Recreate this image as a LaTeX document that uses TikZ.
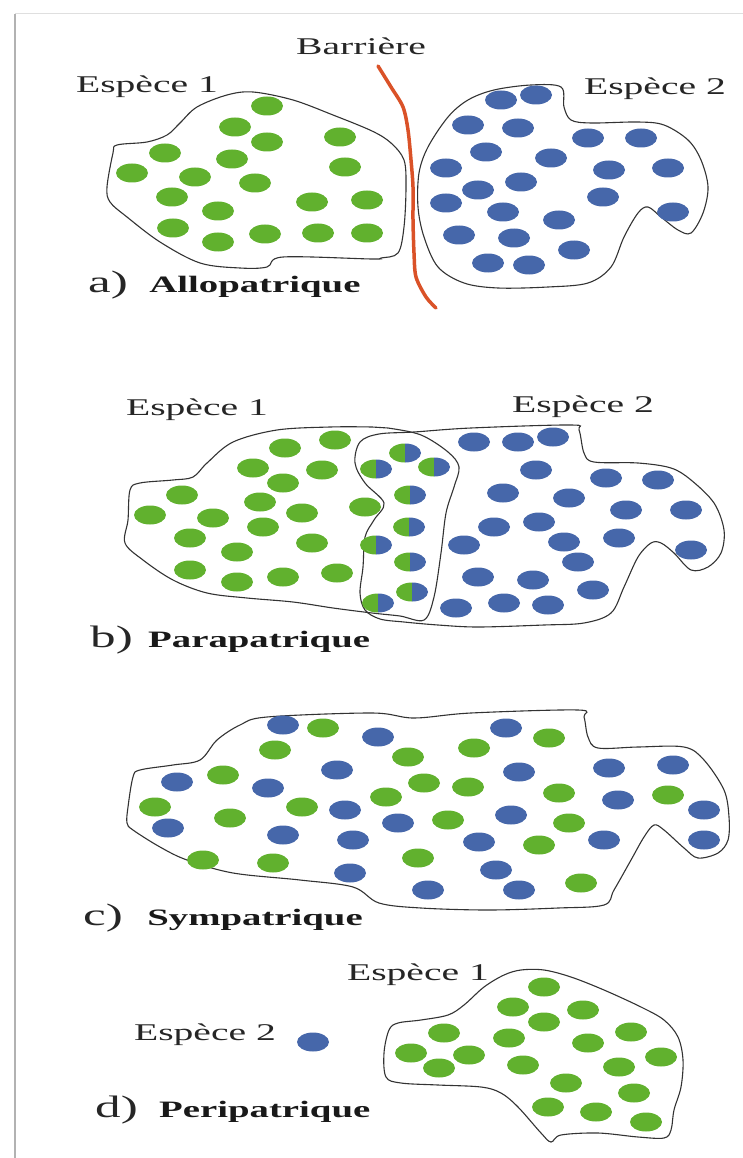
\documentclass[tikz,border=0pt]{standalone}
\usepackage{fontspec}
\setmainfont{Liberation Serif}
\usetikzlibrary{positioning}

\definecolor{grn}{RGB}{97,177,46}
\definecolor{blu}{RGB}{70,103,170}
\definecolor{barrier}{RGB}{218,82,40}
\newcommand{\wide}[1]{\scalebox{1.65}[1]{#1}}

\begin{document}
\begin{tikzpicture}[x=1pt, y=-1pt,
  espece/.style={font=\fontsize{24}{26}\selectfont, inner sep=0pt, anchor=base, text=black!85},
  caselab/.style={font=\fontsize{31}{33}\selectfont, inner sep=0pt, anchor=base west, text=black!85},
  modelab/.style={font=\fontsize{23.5}{26}\selectfont\bfseries, inner sep=0pt, text=black!90},
  area/.style={draw=black!80, line width=1.1pt},
  dotsize/.style={x radius=16pt, y radius=9.5pt},
  gdot/.style={fill=grn},
  bdot/.style={fill=blu},
  barrierline/.style={draw=barrier, line width=3.5pt, line cap=round}
]
  \useasboundingbox (0,0) rectangle (743,1158);
  % frame
  \draw[gray!25, line width=1pt] (15,14) -- (743,14);
  \draw[gray!60, line width=2.5pt] (15,1158) -- (15,14);

  % a) allopatrique
  \draw[area] plot[smooth cycle, tension=0.55] coordinates {(253,92) (293,100) (333,115) (372,131) (391,143) (404,160) (406,187) (404,227) (398,253) (381,258) (372,259) (283,257) (267,267) (240,268) (200,263) (160,242) (127,217) (110,202) (107,187) (113,153) (117,145) (147,142) (167,135) (180,123) (197,107) (227,95)};
  \draw[area] plot[smooth cycle, tension=0.55] coordinates {(531,85) (561,87) (564,107) (571,120) (591,123) (638,122) (664,125) (688,140) (701,160) (708,187) (703,213) (691,233) (678,230) (661,217) (648,207) (638,213) (624,237) (611,267) (588,283) (548,287) (498,288) (464,283) (438,267) (424,237) (418,207) (419,173) (428,147) (448,117) (468,100) (494,90)};
  \foreach \x/\y in {267/106, 235/127, 267/142, 340/137, 165/153, 232/159, 345/167, 132/173, 195/177, 255/183, 172/197, 312/202, 367/200, 218/211, 173/228, 218/242, 265/234, 318/233, 367/233}
    \fill[gdot] (\x,\y) ellipse[dotsize];
  \foreach \x/\y in {501/100, 536/95, 468/125, 518/128, 588/138, 641/138, 486/152, 551/158, 446/168, 609/170, 668/168, 478/190, 521/182, 603/197, 446/203, 503/212, 559/220, 673/212, 459/235, 514/238, 574/250, 488/263, 529/265}
    \fill[bdot] (\x,\y) ellipse[dotsize];
  \draw[barrierline] plot[smooth] coordinates {(378,66) (391,87) (403,107) (408,130) (411,160) (413,187) (413,220) (414,253) (416,277) (426,297) (436,308)};
  \node[espece] (barr) at (361,55) {\wide{Barrière}};
  \node[espece] (spa1) at (147,93) {\wide{Espèce 1}};
  \node[espece] (spa2) at (655,95) {\wide{Espèce 2}};
  \node[caselab] (la) at (88,292) {\wide{a)}};
  \node[modelab, base right=21pt of la] (ma) {\wide{Allopatrique}};

  % b) parapatrique
  \draw[area] plot[smooth cycle, tension=0.55] coordinates {(277,430) (330,427) (372,427) (388,428) (421,435) (448,452) (459,467) (454,487) (446,513) (441,553) (434,597) (424,620) (400,616) (372,613) (333,608) (293,602) (247,598) (207,593) (173,580) (143,560) (125,543) (128,520) (130,490) (140,483) (173,480) (193,477) (207,463) (233,442)};
  \draw[area] plot[smooth cycle, tension=0.55] coordinates {(360,442) (379,434) (414,432) (471,428) (571,425) (579,430) (584,453) (594,462) (638,463) (671,468) (691,480) (714,503) (724,530) (721,553) (708,567) (691,570) (674,553) (661,543) (651,543) (638,557) (624,587) (611,613) (584,623) (544,625) (478,627) (438,625) (404,622) (380,619) (365,610) (360,593) (363,567) (365,537) (374,520) (384,503) (365,483) (355,463)};
  \foreach \x/\y in {335/440, 285/448, 253/468, 322/470, 283/483, 182/495, 260/502, 302/513, 150/515, 213/518, 263/527, 190/538, 312/543, 237/552, 190/570, 237/582, 283/577, 337/573, 365/507}
    \fill[gdot] (\x,\y) ellipse[dotsize];
  \foreach \x/\y in {474/442, 518/442, 553/437, 536/470, 606/478, 658/480, 503/493, 569/498, 626/510, 686/510, 494/527, 539/522, 564/542, 619/538, 464/545, 691/550, 578/562, 478/577, 533/580, 593/590, 456/608, 504/603, 548/605}
    \fill[bdot] (\x,\y) ellipse[dotsize];
  % hybrids
  \foreach \x/\y in {405/453, 376/469, 434/467, 410/495, 409/527, 376/545, 410/562, 412/592, 378/603} {
    \fill[gdot] (\x,\y) -- ++(0,9.5) arc[start angle=270, end angle=90, dotsize] -- cycle;
    \fill[bdot] (\x,\y) -- ++(0,9.5) arc[start angle=-90, end angle=90, dotsize] -- cycle;
  }
  \node[espece] (spb1) at (197,415) {\wide{Espèce 1}};
  \node[espece] (spb2) at (583,412) {\wide{Espèce 2}};
  \node[caselab] (lb) at (90,647) {\wide{b)}};
  \node[modelab, base right=15pt of lb] (mb) {\wide{Parapatrique}};

  % c) sympatrique
  \draw[area] plot[smooth cycle, tension=0.55] coordinates {(267,717) (372,713) (414,718) (471,713) (578,710) (584,717) (588,737) (598,748) (638,747) (684,747) (704,760) (724,790) (729,817) (728,840) (718,853) (698,858) (684,848) (664,830) (654,825) (644,837) (631,860) (614,890) (604,905) (558,908) (488,910) (421,908) (379,903) (353,887) (300,880) (233,873) (187,860) (160,847) (133,830) (127,823) (128,807) (133,777) (140,770) (173,765) (200,760) (217,740) (240,725)};
  \foreach \x/\y in {323/728, 275/750, 223/775, 155/807, 302/807, 230/818, 203/860, 273/863, 549/738, 408/757, 474/748, 424/783, 468/787, 386/797, 559/793, 668/795, 448/820, 569/823, 539/845, 418/858, 581/883}
    \fill[gdot] (\x,\y) ellipse[dotsize];
  \foreach \x/\y in {283/725, 378/737, 337/770, 177/782, 268/788, 345/810, 168/828, 283/835, 353/840, 350/873, 506/728, 519/772, 609/768, 673/765, 618/800, 704/810, 398/823, 511/815, 479/842, 604/840, 704/840, 496/870, 428/890, 519/890}
    \fill[bdot] (\x,\y) ellipse[dotsize];
  \node[caselab] (lc) at (83,925) {\wide{c)}};
  \node[modelab, base right=24pt of lc] (mc) {\wide{Sympatrique}};

  % d) peripatrique
  \draw[area] plot[smooth cycle, tension=0.55] coordinates {(521,970) (544,970) (571,977) (604,990) (641,1007) (664,1020) (678,1037) (683,1060) (681,1087) (674,1110) (671,1130) (664,1138) (638,1137) (598,1133) (561,1135) (551,1142) (541,1133) (518,1107) (501,1093) (481,1087) (438,1085) (401,1083) (386,1077) (384,1053) (389,1030) (398,1023) (421,1020) (448,1015) (464,1005) (484,987) (504,975)};
  \foreach \x/\y in {544/987, 513/1007, 583/1010, 544/1022, 444/1033, 509/1038, 631/1032, 588/1043, 411/1053, 469/1055, 661/1057, 439/1068, 523/1065, 619/1067, 566/1083, 634/1093, 548/1107, 596/1112, 646/1122}
    \fill[gdot] (\x,\y) ellipse[dotsize];
  \fill[bdot] (313,1042) ellipse[dotsize];
  \node[espece] (spd1) at (418,980) {\wide{Espèce 1}};
  \node[espece] (spd2) at (205,1040) {\wide{Espèce 2}};
  \node[caselab] (ld) at (95,1117) {\wide{d)}};
  \node[modelab, base right=21pt of ld] (md) {\wide{Peripatrique}};
\end{tikzpicture}
\end{document}
